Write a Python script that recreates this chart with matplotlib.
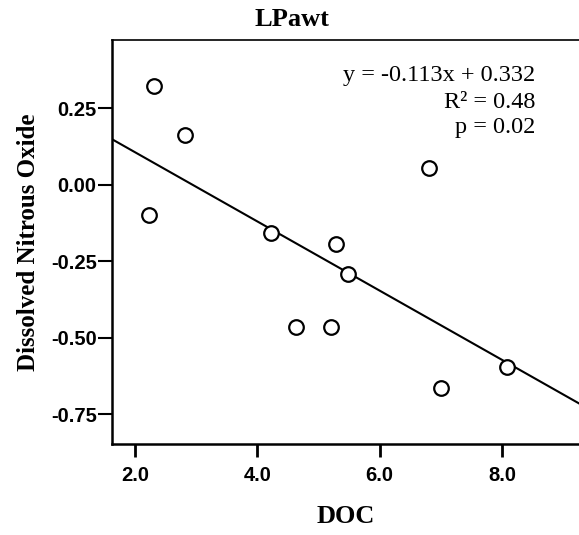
import matplotlib
matplotlib.use("Agg")
import matplotlib.pyplot as plt
import numpy as np

# DOC vs dissolved nitrous oxide, LPawt site
doc = [2.30, 2.81, 2.23, 4.22, 5.28, 5.48, 4.63, 5.21, 6.80, 8.08, 7.00]
n2o = [0.324, 0.162, -0.099, -0.156, -0.192, -0.290, -0.466, -0.466, 0.056, -0.595, -0.665]

slope = -0.113
intercept = 0.332
r_squared = 0.48
p_value = 0.02

x_ticks = [2.0, 4.0, 6.0, 8.0]
y_ticks = [0.25, 0.00, -0.25, -0.50, -0.75]

serif = "Liberation Serif"
sans = "Liberation Sans"

fig = plt.figure(figsize=(5.79, 5.35), dpi=100)
ax = fig.add_axes([0.1934, 0.1701, 0.8066, 0.7551])

xmin, xmax = 1.62, 9.26
ax.set_xlim(xmin, xmax)
ax.set_ylim(-0.847, 0.473)

# fit line across the whole plot width
xs = np.array([xmin, xmax])
ax.plot(xs, slope * xs + intercept, color="black", lw=1.5, zorder=2)

ax.plot(doc, n2o, "o", ms=10.5, mfc="white", mec="black", mew=1.6,
        linestyle="none", zorder=3)

ax.set_xticks(x_ticks)
ax.set_xticklabels([f"{v:.1f}" for v in x_ticks], fontfamily=sans,
                   fontweight="bold", fontsize=14.5)
ax.set_yticks(y_ticks)
ax.set_yticklabels([f"{v:.2f}" for v in y_ticks], fontfamily=sans,
                   fontweight="bold", fontsize=14.5)
ax.tick_params(axis="x", direction="out", length=9, width=2, pad=7)
ax.tick_params(axis="y", direction="out", length=10, width=1.5, pad=1)

for side in ["left", "bottom"]:
    ax.spines[side].set_linewidth(1.8)
ax.spines["top"].set_linewidth(1.2)
ax.spines["right"].set_visible(False)

ax.set_xlabel("DOC", fontfamily=serif, fontweight="bold", fontsize=19,
              labelpad=14)
ax.set_ylabel("Dissolved Nitrous Oxide", fontfamily=serif,
              fontweight="bold", fontsize=18, labelpad=8)

fig.text(292 / 579, 1 - 20 / 535, "LPawt", fontfamily=serif,
         fontweight="bold", fontsize=19, ha="center", va="center")

stats = [
    f"y = {slope:.3f}x + {intercept:.3f}",
    f"R\u00b2 = {r_squared:.2f}",
    f"p = {p_value:.2f}",
]
for i, line in enumerate(stats):
    fig.text(535 / 579, 1 - (76 + 26 * i) / 535, line, fontfamily=serif,
             fontsize=17.5, ha="right", va="center")

fig.savefig("out.png", dpi=100)
